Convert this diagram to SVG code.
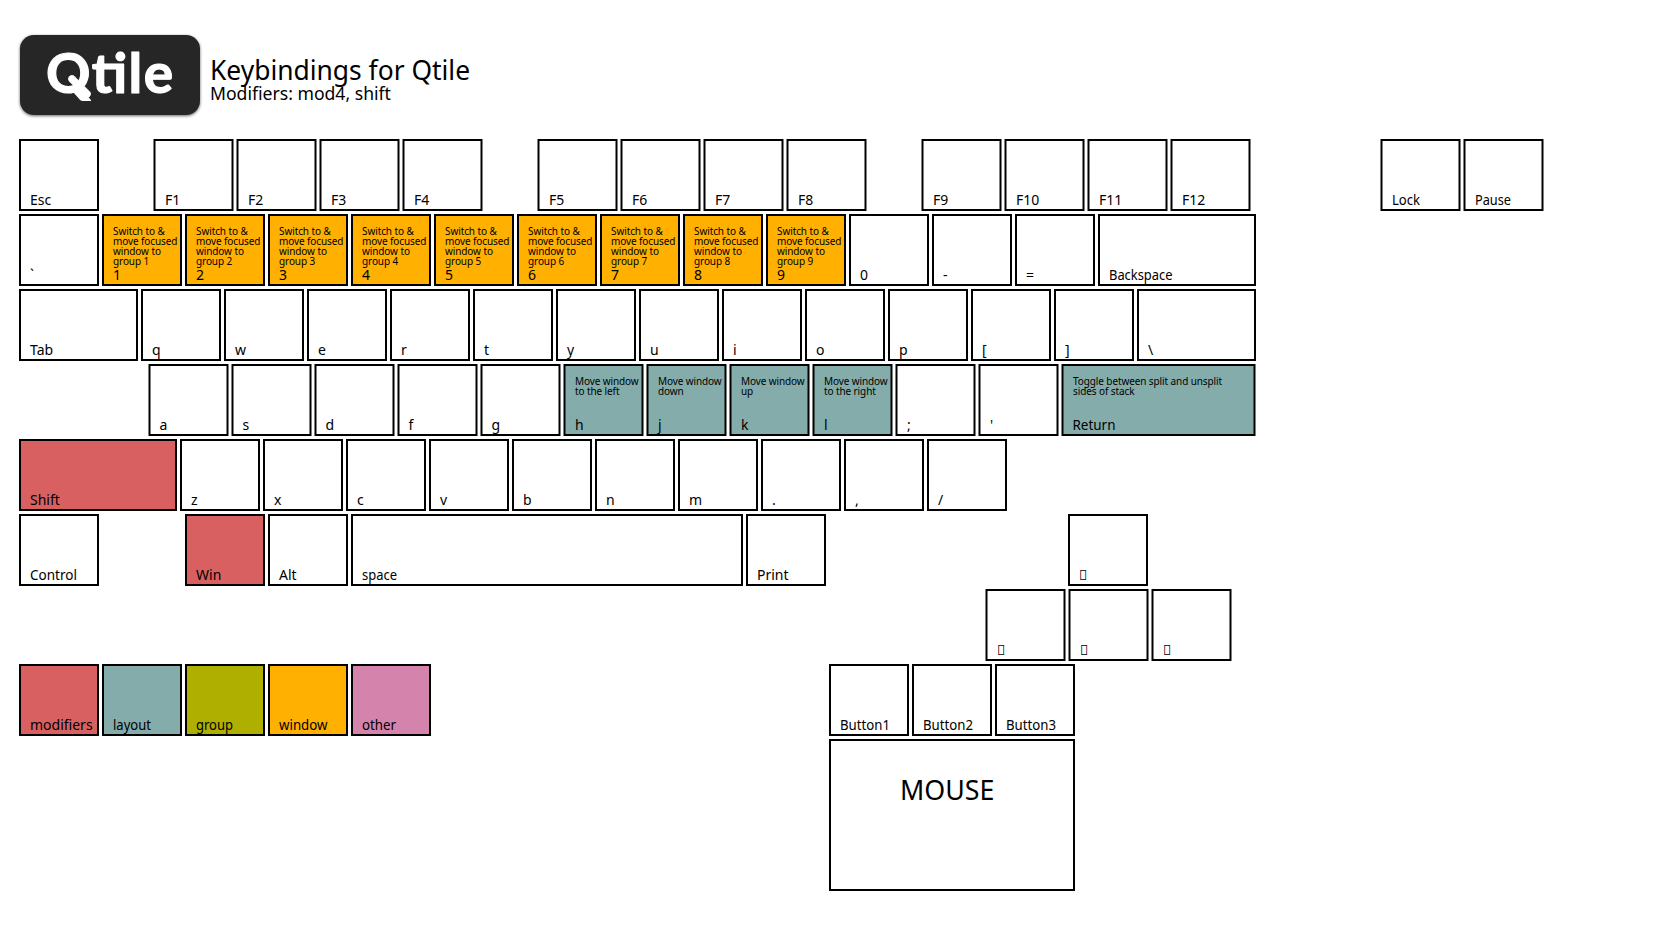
<svg xmlns="http://www.w3.org/2000/svg" width="1680" height="940" viewBox="0 0 1680 940">
<defs><filter id="sh" x="-10%" y="-15%" width="120%" height="130%"><feDropShadow dx="0" dy="1" stdDeviation="1.6" flood-color="#000" flood-opacity="0.6"/></filter></defs>
<style>
text{font-family:"Noto Sans",sans-serif;fill:#000}
.k rect{fill:#fff;stroke:#000;stroke-width:2}
.k.w rect{fill:#ffb000}
.k.l rect{fill:#84acaa}
.k.m rect{fill:#d96060}
.k.g rect{fill:#afaf00}
.k.o rect{fill:#d484ac}
.n{font-size:14px}
.d{font-size:10px;letter-spacing:-.1px}
</style>
<rect width="1680" height="940" fill="#fff"/>
<g id="logo"><rect x="20" y="35" width="180" height="80" rx="14" fill="#282828" filter="url(#sh)"/>
<text x="46" y="93" textLength="127" lengthAdjust="spacing" style="font-family:Lato,sans-serif;font-weight:700;font-size:55px;fill:#fff;stroke:#fff;stroke-width:1.2;stroke-linejoin:round">Qtile</text>
<line x1="72" y1="79" x2="87" y2="94" stroke="#fff" stroke-width="7.5" stroke-linecap="round"/></g>
<g id="title"><text x="210" y="80" font-size="26.4">Keybindings for Qtile</text><text x="210" y="100" font-size="17.6">Modifiers: mod4, shift</text></g>
<g id="connectors"/>
<g id="key-esc" class="k"><rect x="20" y="140" width="78" height="70"/><text class="n" x="30" y="205">Esc</text></g>
<g id="key-f1" class="k"><rect x="154.5" y="140" width="78" height="70"/><text class="n" x="165" y="205">F1</text></g>
<g id="key-f2" class="k"><rect x="237.5" y="140" width="78" height="70"/><text class="n" x="248" y="205">F2</text></g>
<g id="key-f3" class="k"><rect x="320.5" y="140" width="78" height="70"/><text class="n" x="331" y="205">F3</text></g>
<g id="key-f4" class="k"><rect x="403.5" y="140" width="78" height="70"/><text class="n" x="414" y="205">F4</text></g>
<g id="key-f5" class="k"><rect x="538.5" y="140" width="78" height="70"/><text class="n" x="549" y="205">F5</text></g>
<g id="key-f6" class="k"><rect x="621.5" y="140" width="78" height="70"/><text class="n" x="632" y="205">F6</text></g>
<g id="key-f7" class="k"><rect x="704.5" y="140" width="78" height="70"/><text class="n" x="715" y="205">F7</text></g>
<g id="key-f8" class="k"><rect x="787.5" y="140" width="78" height="70"/><text class="n" x="798" y="205">F8</text></g>
<g id="key-f9" class="k"><rect x="922.5" y="140" width="78" height="70"/><text class="n" x="933" y="205">F9</text></g>
<g id="key-f10" class="k"><rect x="1005.5" y="140" width="78" height="70"/><text class="n" x="1016" y="205">F10</text></g>
<g id="key-f11" class="k"><rect x="1088.5" y="140" width="78" height="70"/><text class="n" x="1099" y="205">F11</text></g>
<g id="key-f12" class="k"><rect x="1171.5" y="140" width="78" height="70"/><text class="n" x="1182" y="205">F12</text></g>
<g id="key-lock" class="k"><rect x="1381.5" y="140" width="78" height="70"/><text class="n" x="1392" y="205" textLength="28" lengthAdjust="spacingAndGlyphs">Lock</text></g>
<g id="key-pause" class="k"><rect x="1464.5" y="140" width="78" height="70"/><text class="n" x="1475" y="205" textLength="36" lengthAdjust="spacingAndGlyphs">Pause</text></g>

<g id="key-grave" class="k"><rect x="20" y="215" width="78" height="70"/><text class="n" x="30" y="280">`</text></g>
<g id="key-1" class="k w"><rect x="103" y="215" width="78" height="70"/><text class="d" x="113" y="234.5">Switch to &amp;</text><text class="d" x="113" y="244.5">move focused</text><text class="d" x="113" y="254.5">window to</text><text class="d" x="113" y="264.5">group 1</text><text class="n" x="113" y="280">1</text></g>
<g id="key-2" class="k w"><rect x="186" y="215" width="78" height="70"/><text class="d" x="196" y="234.5">Switch to &amp;</text><text class="d" x="196" y="244.5">move focused</text><text class="d" x="196" y="254.5">window to</text><text class="d" x="196" y="264.5">group 2</text><text class="n" x="196" y="280">2</text></g>
<g id="key-3" class="k w"><rect x="269" y="215" width="78" height="70"/><text class="d" x="279" y="234.5">Switch to &amp;</text><text class="d" x="279" y="244.5">move focused</text><text class="d" x="279" y="254.5">window to</text><text class="d" x="279" y="264.5">group 3</text><text class="n" x="279" y="280">3</text></g>
<g id="key-4" class="k w"><rect x="352" y="215" width="78" height="70"/><text class="d" x="362" y="234.5">Switch to &amp;</text><text class="d" x="362" y="244.5">move focused</text><text class="d" x="362" y="254.5">window to</text><text class="d" x="362" y="264.5">group 4</text><text class="n" x="362" y="280">4</text></g>
<g id="key-5" class="k w"><rect x="435" y="215" width="78" height="70"/><text class="d" x="445" y="234.5">Switch to &amp;</text><text class="d" x="445" y="244.5">move focused</text><text class="d" x="445" y="254.5">window to</text><text class="d" x="445" y="264.5">group 5</text><text class="n" x="445" y="280">5</text></g>
<g id="key-6" class="k w"><rect x="518" y="215" width="78" height="70"/><text class="d" x="528" y="234.5">Switch to &amp;</text><text class="d" x="528" y="244.5">move focused</text><text class="d" x="528" y="254.5">window to</text><text class="d" x="528" y="264.5">group 6</text><text class="n" x="528" y="280">6</text></g>
<g id="key-7" class="k w"><rect x="601" y="215" width="78" height="70"/><text class="d" x="611" y="234.5">Switch to &amp;</text><text class="d" x="611" y="244.5">move focused</text><text class="d" x="611" y="254.5">window to</text><text class="d" x="611" y="264.5">group 7</text><text class="n" x="611" y="280">7</text></g>
<g id="key-8" class="k w"><rect x="684" y="215" width="78" height="70"/><text class="d" x="694" y="234.5">Switch to &amp;</text><text class="d" x="694" y="244.5">move focused</text><text class="d" x="694" y="254.5">window to</text><text class="d" x="694" y="264.5">group 8</text><text class="n" x="694" y="280">8</text></g>
<g id="key-9" class="k w"><rect x="767" y="215" width="78" height="70"/><text class="d" x="777" y="234.5">Switch to &amp;</text><text class="d" x="777" y="244.5">move focused</text><text class="d" x="777" y="254.5">window to</text><text class="d" x="777" y="264.5">group 9</text><text class="n" x="777" y="280">9</text></g>
<g id="key-0" class="k"><rect x="850" y="215" width="78" height="70"/><text class="n" x="860" y="280">0</text></g>
<g id="key-minus" class="k"><rect x="933" y="215" width="78" height="70"/><text class="n" x="943" y="280">-</text></g>
<g id="key-equal" class="k"><rect x="1016" y="215" width="78" height="70"/><text class="n" x="1026" y="280">=</text></g>
<g id="key-backspace" class="k"><rect x="1099" y="215" width="156" height="70"/><text class="n" x="1109" y="280" textLength="63.5" lengthAdjust="spacingAndGlyphs">Backspace</text></g>

<g id="key-tab" class="k"><rect x="20" y="290" width="117" height="70"/><text class="n" x="30" y="355">Tab</text></g>
<g id="key-q" class="k"><rect x="142" y="290" width="78" height="70"/><text class="n" x="152" y="355">q</text></g>
<g id="key-w" class="k"><rect x="225" y="290" width="78" height="70"/><text class="n" x="235" y="355">w</text></g>
<g id="key-e" class="k"><rect x="308" y="290" width="78" height="70"/><text class="n" x="318" y="355">e</text></g>
<g id="key-r" class="k"><rect x="391" y="290" width="78" height="70"/><text class="n" x="401" y="355">r</text></g>
<g id="key-t" class="k"><rect x="474" y="290" width="78" height="70"/><text class="n" x="484" y="355">t</text></g>
<g id="key-y" class="k"><rect x="557" y="290" width="78" height="70"/><text class="n" x="567" y="355">y</text></g>
<g id="key-u" class="k"><rect x="640" y="290" width="78" height="70"/><text class="n" x="650" y="355">u</text></g>
<g id="key-i" class="k"><rect x="723" y="290" width="78" height="70"/><text class="n" x="733" y="355">i</text></g>
<g id="key-o" class="k"><rect x="806" y="290" width="78" height="70"/><text class="n" x="816" y="355">o</text></g>
<g id="key-p" class="k"><rect x="889" y="290" width="78" height="70"/><text class="n" x="899" y="355">p</text></g>
<g id="key-lbracket" class="k"><rect x="972" y="290" width="78" height="70"/><text class="n" x="982" y="355">[</text></g>
<g id="key-rbracket" class="k"><rect x="1055" y="290" width="78" height="70"/><text class="n" x="1065" y="355">]</text></g>
<g id="key-backslash" class="k"><rect x="1138" y="290" width="117" height="70"/><text class="n" x="1148" y="355">\</text></g>

<g id="key-a" class="k"><rect x="149.5" y="365" width="78" height="70"/><text class="n" x="159.5" y="430">a</text></g>
<g id="key-s" class="k"><rect x="232.5" y="365" width="78" height="70"/><text class="n" x="242.5" y="430">s</text></g>
<g id="key-d" class="k"><rect x="315.5" y="365" width="78" height="70"/><text class="n" x="325.5" y="430">d</text></g>
<g id="key-f" class="k"><rect x="398.5" y="365" width="78" height="70"/><text class="n" x="408.5" y="430">f</text></g>
<g id="key-g" class="k"><rect x="481.5" y="365" width="78" height="70"/><text class="n" x="491.5" y="430">g</text></g>
<g id="key-h" class="k l"><rect x="564.5" y="365" width="78" height="70"/><text class="d" x="575" y="384.5">Move window</text><text class="d" x="575" y="394.5">to the left</text><text class="n" x="575" y="430">h</text></g>
<g id="key-j" class="k l"><rect x="647.5" y="365" width="78" height="70"/><text class="d" x="658" y="384.5">Move window</text><text class="d" x="658" y="394.5">down</text><text class="n" x="658" y="430">j</text></g>
<g id="key-k" class="k l"><rect x="730.5" y="365" width="78" height="70"/><text class="d" x="741" y="384.5">Move window</text><text class="d" x="741" y="394.5">up</text><text class="n" x="741" y="430">k</text></g>
<g id="key-l" class="k l"><rect x="813.5" y="365" width="78" height="70"/><text class="d" x="824" y="384.5">Move window</text><text class="d" x="824" y="394.5">to the right</text><text class="n" x="824" y="430">l</text></g>
<g id="key-semicolon" class="k"><rect x="896.5" y="365" width="78" height="70"/><text class="n" x="907" y="430">;</text></g>
<g id="key-quote" class="k"><rect x="979.5" y="365" width="78" height="70"/><text class="n" x="990" y="430">'</text></g>
<g id="key-return" class="k l"><rect x="1062.5" y="365" width="192" height="70"/><text class="d" x="1073" y="384.5">Toggle between split and unsplit</text><text class="d" x="1073" y="394.5">sides of stack</text><text class="n" x="1072.5" y="430" textLength="43" lengthAdjust="spacingAndGlyphs">Return</text></g>

<g id="key-shift" class="k m"><rect x="20" y="440" width="156" height="70"/><text class="n" x="30" y="505">Shift</text></g>
<g id="key-z" class="k"><rect x="181" y="440" width="78" height="70"/><text class="n" x="191" y="505">z</text></g>
<g id="key-x" class="k"><rect x="264" y="440" width="78" height="70"/><text class="n" x="274" y="505">x</text></g>
<g id="key-c" class="k"><rect x="347" y="440" width="78" height="70"/><text class="n" x="357" y="505">c</text></g>
<g id="key-v" class="k"><rect x="430" y="440" width="78" height="70"/><text class="n" x="440" y="505">v</text></g>
<g id="key-b" class="k"><rect x="513" y="440" width="78" height="70"/><text class="n" x="523" y="505">b</text></g>
<g id="key-n" class="k"><rect x="596" y="440" width="78" height="70"/><text class="n" x="606" y="505">n</text></g>
<g id="key-m" class="k"><rect x="679" y="440" width="78" height="70"/><text class="n" x="689" y="505">m</text></g>
<g id="key-period" class="k"><rect x="762" y="440" width="78" height="70"/><text class="n" x="772" y="505">.</text></g>
<g id="key-comma" class="k"><rect x="845" y="440" width="78" height="70"/><text class="n" x="855" y="505">,</text></g>
<g id="key-slash" class="k"><rect x="928" y="440" width="78" height="70"/><text class="n" x="938" y="505">/</text></g>

<g id="key-control" class="k"><rect x="20" y="515" width="78" height="70"/><text class="n" x="30" y="580" textLength="47" lengthAdjust="spacingAndGlyphs">Control</text></g>
<g id="key-win" class="k m"><rect x="186" y="515" width="78" height="70"/><text class="n" x="196" y="580">Win</text></g>
<g id="key-alt" class="k"><rect x="269" y="515" width="78" height="70"/><text class="n" x="279" y="580">Alt</text></g>
<g id="key-space" class="k"><rect x="352" y="515" width="390" height="70"/><text class="n" x="362" y="580" textLength="35" lengthAdjust="spacingAndGlyphs">space</text></g>
<g id="key-print" class="k"><rect x="747" y="515" width="78" height="70"/><text class="n" x="757" y="580">Print</text></g>
<g id="key-up" class="k"><rect x="1069" y="515" width="78" height="70"/><text class="n" x="1079" y="580">&#xE123;</text></g>
<g id="key-left" class="k"><rect x="986.5" y="590" width="78" height="70"/><text class="n" x="997" y="655">&#xE123;</text></g>
<g id="key-down" class="k"><rect x="1069.5" y="590" width="78" height="70"/><text class="n" x="1080" y="655">&#xE123;</text></g>
<g id="key-right" class="k"><rect x="1152.5" y="590" width="78" height="70"/><text class="n" x="1163" y="655">&#xE123;</text></g>

<g id="legend-modifiers" class="k m"><rect x="20" y="665" width="78" height="70"/><text class="n" x="30" y="730">modifiers</text></g>
<g id="legend-layout" class="k l"><rect x="103" y="665" width="78" height="70"/><text class="n" x="113" y="730" textLength="38" lengthAdjust="spacingAndGlyphs">layout</text></g>
<g id="legend-group" class="k g"><rect x="186" y="665" width="78" height="70"/><text class="n" x="196" y="730" textLength="37" lengthAdjust="spacingAndGlyphs">group</text></g>
<g id="legend-window" class="k w"><rect x="269" y="665" width="78" height="70"/><text class="n" x="279" y="730" textLength="48.5" lengthAdjust="spacingAndGlyphs">window</text></g>
<g id="legend-other" class="k o"><rect x="352" y="665" width="78" height="70"/><text class="n" x="362" y="730" textLength="34" lengthAdjust="spacingAndGlyphs">other</text></g>

<g id="button-1" class="k"><rect x="830" y="665" width="78" height="70"/><text class="n" x="840" y="730" textLength="50" lengthAdjust="spacingAndGlyphs">Button1</text></g>
<g id="button-2" class="k"><rect x="913" y="665" width="78" height="70"/><text class="n" x="923" y="730" textLength="50" lengthAdjust="spacingAndGlyphs">Button2</text></g>
<g id="button-3" class="k"><rect x="996" y="665" width="78" height="70"/><text class="n" x="1006" y="730" textLength="50" lengthAdjust="spacingAndGlyphs">Button3</text></g>
<g id="mouse" class="k"><rect x="830" y="740" width="244" height="150"/><text x="900" y="800" font-size="26.8">MOUSE</text></g>
</svg>
